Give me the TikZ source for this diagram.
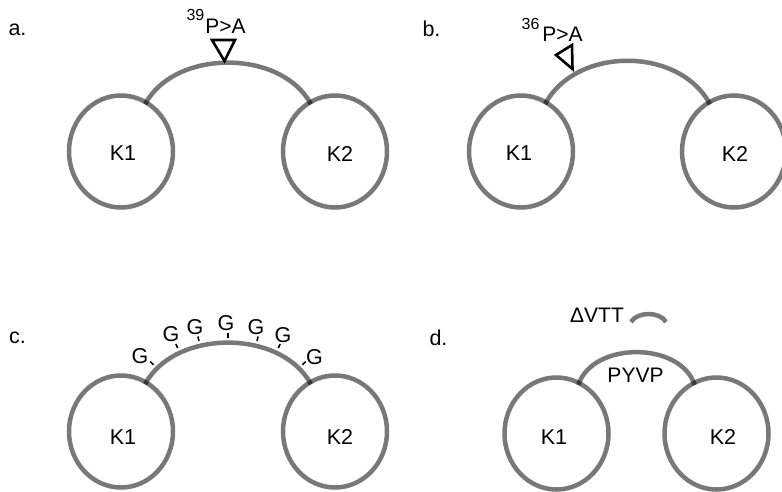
\documentclass[tikz,border=0pt]{standalone}
\usepackage{fontspec}
\setmainfont{Liberation Sans}
\usetikzlibrary{shapes.geometric}
\begin{document}
\begin{tikzpicture}[x=1pt,y=-1pt,
  ring/.style={ellipse, draw=black, draw opacity=0.53, line width=4.5pt,
    minimum width=104pt, minimum height=112pt, inner sep=0pt, outer sep=0pt},
  stroke/.style={draw=black, draw opacity=0.53, line width=4.5pt},
  link/.style={stroke, shorten <=-2pt, shorten >=-2pt},
  txt/.style={font=\fontsize{21.5}{24}\selectfont, inner sep=0pt, text=black},
  bigtxt/.style={font=\fontsize{21}{24}\selectfont, inner sep=0pt, text=black},
  suptxt/.style={font=\fontsize{16}{18}\selectfont, inner sep=0pt, text=black},
  tri/.style={draw=black, line width=2.6pt, line join=miter},
  tick/.style={sloped, above=4.5pt, fill=black, fill opacity=1, draw=none,
    minimum width=1.6pt, minimum height=4.5pt, inner sep=0pt, outer sep=0pt}
]
\fill[white] (0,0) rectangle (782,492);
\useasboundingbox (0,0) rectangle (782,492);

% ---------- panel a ----------
\node[txt] (la) at (17.5,30) {a.};
\node[ring] (k1a) at (121,151.5) {};
\node[ring] (k2a) at (335,151.5) {};
\node[txt] (t1a) at (123,153.5) {K1};
\node[txt] (t2a) at (340,153.5) {K2};
\draw[link] (k1a.63) to[out=62,in=118,looseness=0.95] (k2a.117);
\draw[tri] (212,40) -- (235,40) -- (224.5,61) -- cycle;
\node[suptxt] (sa) at (195.5,15) {39};
\node[bigtxt] (pa) at (225.5,26.5) {P>A};

% ---------- panel b ----------
\node[txt] (lb) at (431.5,28.5) {b.};
\node[ring] (k1b) at (521,151.5) {};
\node[ring] (k2b) at (734,151.5) {};
\node[txt] (t1b) at (519,153.5) {K1};
\node[txt] (t2b) at (735,153.5) {K2};
\draw[link] (k1b.63) to[out=62,in=118,looseness=1.0] (k2b.117);
\draw[tri] (556,55) -- (572,45) -- (572.5,69) -- cycle;
\node[suptxt] (sb) at (530.5,23.5) {36};
\node[bigtxt] (pb) at (562.5,34) {P>A};

% ---------- panel c ----------
\node[txt] (lc) at (17.5,338) {c.};
\node[ring] (k1c) at (121,431.5) {};
\node[ring] (k2c) at (335,431.5) {};
\node[txt] (t1c) at (123,437) {K1};
\node[txt] (t2c) at (340,437) {K2};
\draw[link] (k1c.63) to[out=62,in=118,looseness=0.95]
  node[tick,pos=0.10] (m1) {}
  node[tick,pos=0.25] (m2) {}
  node[tick,pos=0.36] (m3) {}
  node[tick,pos=0.50] (m4) {}
  node[tick,pos=0.64] (m5) {}
  node[tick,pos=0.75] (m6) {}
  node[tick,pos=0.90] (m7) {}
  (k2c.117);
\node[txt] (g1) at (140,356.5) {G};
\node[txt] (g2) at (171,334) {G};
\node[txt] (g3) at (195,327) {G};
\node[txt] (g4) at (226,323) {G};
\node[txt] (g5) at (256,327) {G};
\node[txt] (g6) at (283,335) {G};
\node[txt] (g7) at (314.5,357) {G};

% ---------- panel d ----------
\node[txt] (ld) at (438.5,338) {d.};
\node[ring] (k1d) at (556.5,433.5) {};
\node[ring] (k2d) at (716.5,433.5) {};
\node[txt] (t1d) at (554,437) {K1};
\node[txt] (t2d) at (723,437) {K2};
\draw[link] (k1d.66) to[out=72,in=108,looseness=0.98] (k2d.114);
\node[bigtxt] (pyvp) at (635.5,375.5) {PYVP};
\node[bigtxt] (vtt) at (597,315.5) {ΔVTT};
\coordinate (v1) at (631,322);
\coordinate (v2) at (666,322);
\draw[stroke] (v1) to[out=60,in=120,looseness=0.9] (v2);
\end{tikzpicture}
\end{document}
